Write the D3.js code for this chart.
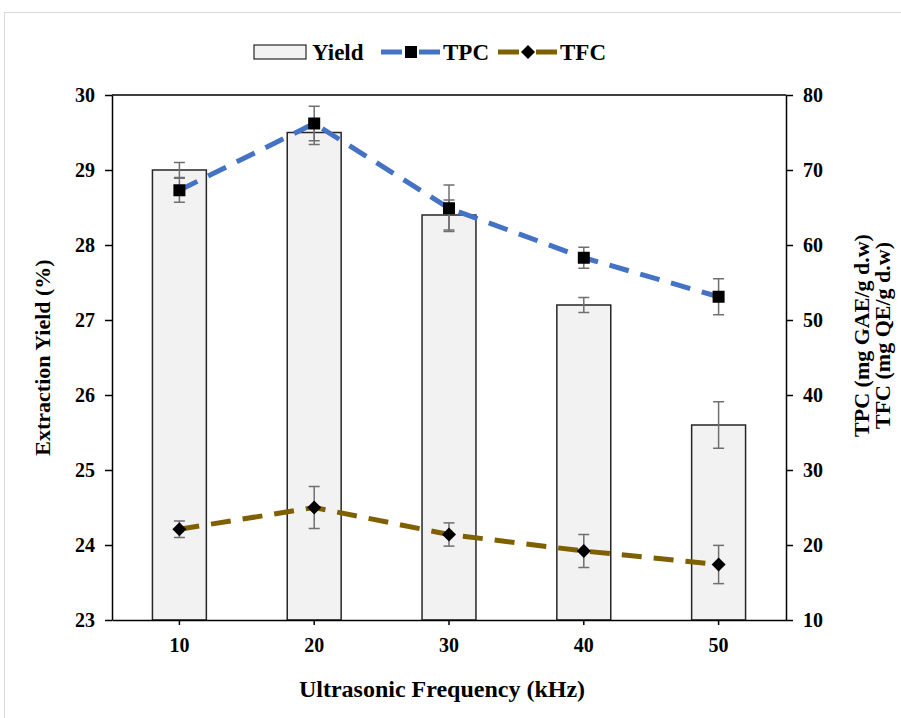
<!DOCTYPE html>
<html>
<head>
<meta charset="utf-8">
<script src="https://cdn.jsdelivr.net/npm/d3@7"></script>
<style>
  body { margin: 0; background: #fff; }
  svg text { font-family: "Liberation Serif", "Times New Roman", serif; font-weight: bold; fill: #000; }
</style>
</head>
<body>
<div id="chart"></div>
<script>
const frequencies = [10, 20, 30, 40, 50];
const yieldValues = [29.0, 29.5, 28.4, 27.2, 25.6];
const yieldErrors = [0.1, 0.16, 0.2, 0.1, 0.31];
const tpcValues = [67.3, 76.2, 64.9, 58.3, 53.1];
const tpcErrors = [1.6, 2.3, 3.1, 1.4, 2.4];
const tfcValues = [22.1, 25.0, 21.4, 19.2, 17.4];
const tfcErrors = [1.1, 2.8, 1.55, 2.2, 2.55];
const leftTicks = [23, 24, 25, 26, 27, 28, 29, 30];
const rightTicks = [10, 20, 30, 40, 50, 60, 70, 80];

const W = 901, H = 718;
const margin = { top: 95, right: 115, bottom: 98, left: 112 };
const innerW = W - margin.left - margin.right;
const innerH = H - margin.top - margin.bottom;

const svg = d3.select('#chart').append('svg')
  .attr('width', W).attr('height', H);

// outer light frame
svg.append('rect')
  .attr('x', 4.5).attr('y', 12.5)
  .attr('width', W + 10).attr('height', H + 10)
  .attr('fill', 'none').attr('stroke', '#d9d9d9').attr('stroke-width', 1);

const g = svg.append('g').attr('transform', `translate(${margin.left},${margin.top})`);

const x = d3.scaleBand().domain(frequencies).range([0, innerW])
  .paddingInner(0.6).paddingOuter(0.3);
const yL = d3.scaleLinear().domain([23, 30]).range([innerH, 0]);
const yR = d3.scaleLinear().domain([10, 80]).range([innerH, 0]);
const cx = d => x(d) + x.bandwidth() / 2;

// bars
g.selectAll('.bar').data(frequencies).join('rect')
  .attr('class', 'bar')
  .attr('x', d => x(d))
  .attr('y', (d, i) => yL(yieldValues[i]))
  .attr('width', x.bandwidth())
  .attr('height', (d, i) => innerH - yL(yieldValues[i]))
  .attr('fill', '#f2f2f2').attr('stroke', '#262626').attr('stroke-width', 1.5);

function errorBars(cls, vals, errs, scale) {
  const eg = g.selectAll('.' + cls).data(frequencies).join('g').attr('class', cls);
  eg.append('line')
    .attr('x1', d => cx(d)).attr('x2', d => cx(d))
    .attr('y1', (d, i) => scale(vals[i] - errs[i]))
    .attr('y2', (d, i) => scale(vals[i] + errs[i]));
  [-1, 1].forEach(s => {
    eg.append('line')
      .attr('x1', d => cx(d) - 5.5).attr('x2', d => cx(d) + 5.5)
      .attr('y1', (d, i) => scale(vals[i] + s * errs[i]))
      .attr('y2', (d, i) => scale(vals[i] + s * errs[i]));
  });
  eg.selectAll('line').attr('stroke', '#6f6f6f').attr('stroke-width', 1.5);
}

errorBars('err-yield', yieldValues, yieldErrors, yL);

// lines
const line = vals => d3.line().x(d => cx(d)).y((d, i) => yR(vals[i]))(frequencies);

g.append('path').attr('d', line(tpcValues))
  .attr('fill', 'none').attr('stroke', '#4472c4').attr('stroke-width', 5)
  .attr('stroke-dasharray', '20,12');
g.append('path').attr('d', line(tfcValues))
  .attr('fill', 'none').attr('stroke', '#7f6000').attr('stroke-width', 5)
  .attr('stroke-dasharray', '20,12');

errorBars('err-tpc', tpcValues, tpcErrors, yR);
errorBars('err-tfc', tfcValues, tfcErrors, yR);

// markers
g.selectAll('.tpc-pt').data(frequencies).join('rect')
  .attr('class', 'tpc-pt')
  .attr('x', d => cx(d) - 6).attr('y', (d, i) => yR(tpcValues[i]) - 6)
  .attr('width', 12).attr('height', 12).attr('fill', '#000');
g.selectAll('.tfc-pt').data(frequencies).join('path')
  .attr('class', 'tfc-pt')
  .attr('transform', (d, i) => `translate(${cx(d)},${yR(tfcValues[i])})`)
  .attr('d', 'M0,-7L7,0L0,7L-7,0Z').attr('fill', '#000');

// axes
const axisStyle = sel => {
  sel.selectAll('path, line').attr('stroke', '#000').attr('stroke-width', 1.5);
  sel.selectAll('text').attr('font-size', 20).style('font-family', '"Liberation Serif", serif').style('font-weight', 'bold');
};

g.append('g').attr('transform', `translate(0,${innerH})`)
  .call(d3.axisBottom(x).tickSize(5).tickSizeOuter(0).tickPadding(13))
  .call(axisStyle);

g.append('g')
  .call(d3.axisLeft(yL).tickValues(leftTicks).tickSize(7).tickSizeOuter(0).tickPadding(10).tickFormat(d3.format('d')))
  .call(axisStyle);

g.append('g').attr('transform', `translate(${innerW},0)`)
  .call(d3.axisRight(yR).tickValues(rightTicks).tickSize(7).tickSizeOuter(0).tickPadding(10).tickFormat(d3.format('d')))
  .call(axisStyle);

// top border
g.append('line').attr('x1', 0).attr('x2', innerW).attr('y1', 0).attr('y2', 0)
  .attr('stroke', '#000').attr('stroke-width', 1.5);

// axis titles
svg.append('text')
  .attr('transform', `translate(50,${margin.top + innerH / 2}) rotate(-90)`)
  .attr('text-anchor', 'middle').attr('font-size', 22)
  .text('Extraction Yield (%)');

const rt = svg.append('text')
  .attr('transform', `translate(869,${margin.top + innerH / 2 - 22}) rotate(-90)`)
  .attr('text-anchor', 'middle').attr('font-size', 22);
rt.append('tspan').attr('x', 0).attr('dy', 0).text('TPC (mg GAE/g d.w)');
rt.append('tspan').attr('x', 0).attr('dy', 21).text('TFC (mg QE/g d.w)');

svg.append('text')
  .attr('x', 442).attr('y', 697)
  .attr('text-anchor', 'middle').attr('font-size', 24)
  .text('Ultrasonic Frequency (kHz)');

// legend
const lg = svg.append('g').attr('transform', 'translate(0,52)');
lg.append('rect').attr('x', 254).attr('y', -7).attr('width', 52).attr('height', 14)
  .attr('fill', '#f2f2f2').attr('stroke', '#262626').attr('stroke-width', 1.2);
lg.append('text').attr('x', 312).attr('y', 8).attr('font-size', 23).text('Yield');

const legLines = [
  { x: 381, color: '#4472c4', label: 'TPC', marker: 'square' },
  { x: 498, color: '#7f6000', label: 'TFC', marker: 'diamond' }
];
legLines.forEach(l => {
  lg.append('line').attr('x1', l.x).attr('x2', l.x + 21).attr('y1', 0).attr('y2', 0)
    .attr('stroke', l.color).attr('stroke-width', 5);
  lg.append('line').attr('x1', l.x + 38).attr('x2', l.x + 59).attr('y1', 0).attr('y2', 0)
    .attr('stroke', l.color).attr('stroke-width', 5);
  if (l.marker === 'square') {
    lg.append('rect').attr('x', l.x + 24).attr('y', -6).attr('width', 12).attr('height', 12).attr('fill', '#000');
  } else {
    lg.append('path').attr('transform', `translate(${l.x + 30},0)`).attr('d', 'M0,-7L7,0L0,7L-7,0Z').attr('fill', '#000');
  }
  lg.append('text').attr('x', l.x + 62).attr('y', 8).attr('font-size', 23).text(l.label);
});
</script>
</body>
</html>
